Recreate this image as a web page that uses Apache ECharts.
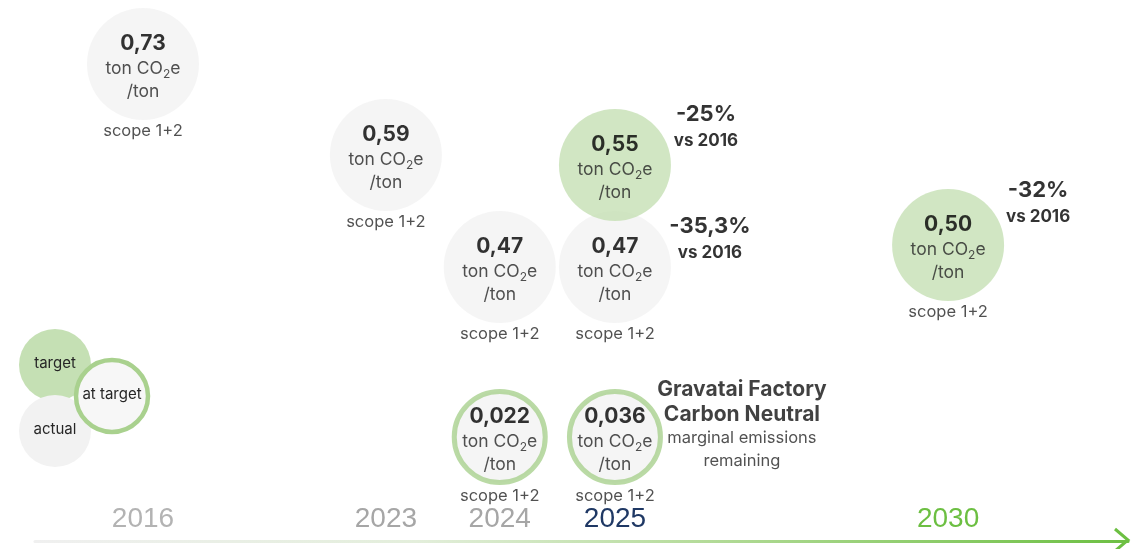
<!DOCTYPE html>
<html>
<head>
<meta charset="utf-8">
<script src="https://cdn.jsdelivr.net/npm/echarts@6/dist/echarts.min.js"></script>
<style>
  html, body { margin: 0; padding: 0; background: #ffffff; }
  #chart { width: 1136px; height: 549px; }
</style>
</head>
<body>
<div id="chart"></div>
<script>
// ---- Data: CO2e intensity, ton CO2e per ton produced ----
const timelineYears = [2016, 2023, 2024, 2025, 2030];
const baseYear = 2016;

const actualYears  = [2016, 2023, 2024, 2025];
const actualValues = [0.73, 0.59, 0.47, 0.47];
const actualChange = ['', '', '', '-35,3%'];
const actualScope  = ['scope 1+2', 'scope 1+2', 'scope 1+2', 'scope 1+2'];

const targetYears  = [2025, 2030];
const targetValues = [0.55, 0.50];
const targetChange = ['-25%', '-32%'];
const targetScope  = ['', 'scope 1+2'];

const neutralYears  = [2024, 2025];
const neutralValues = [0.022, 0.036];
const neutralScope  = ['scope 1+2', 'scope 1+2'];

const neutralTitle = ['Gravatai Factory', 'Carbon Neutral'];
const neutralNote  = ['marginal emissions', 'remaining'];
const legendText   = { target: 'target', actual: 'actual', neutral: 'at target' };

// ---- Layout: timeline slot per year, vertical row per bubble ----
const slotOf = { 2016: 0, 2023: 8.75, 2024: 12.85, 2025: 17, 2030: 29 };
const rowOf = {
  actual:  { 2016: 64, 2023: 155, 2024: 267, 2025: 267 },
  target:  { 2025: 165, 2030: 245 },
  neutral: { 2024: 437, 2025: 437 }
};
const changeOffset = {
  actual:  { 2025: [95, -28] },
  target:  { 2025: [91, -38], 2030: [90, -42] }
};

const GRAY = '#f2f2f2';
const GREEN_FILL = '#c5e0b4';
const GREEN_RING = '#a9d18e';
const TEXT = '#262626';
const FONT = 'Inter, "Noto Sans", sans-serif';
const SIZE = { actual: 112, target: 112, neutral: 91 };
const yearColor = { 2016: '#b3b3b3', 2023: '#a6a6a6', 2024: '#a6a6a6', 2025: '#1f3864', 2030: '#6cbf42' };

function fmt(v) {
  return (v < 0.1 ? v.toFixed(3) : v.toFixed(2)).replace('.', ',');
}

const bubbleRich = {
  v: { fontFamily: FONT, fontSize: 21, fontWeight: 'bold', color: '#000', lineHeight: 27 },
  u: { fontFamily: FONT, fontSize: 17.5, color: TEXT, lineHeight: 23 },
  s: { fontFamily: FONT, fontSize: 12, color: TEXT, lineHeight: 17, verticalAlign: 'bottom', padding: [2, 0, 0, 0] }
};
const bubbleLabel = {
  show: true,
  position: 'inside',
  offset: [0, 3],
  formatter: p => `{v|${fmt(p.value[2])}}\n{u|ton CO}{s|2}{u|e}\n{u|/ton}`,
  rich: bubbleRich
};

function points(kind, years, values) {
  return years.map((y, i) => [slotOf[y], rowOf[kind][y], values[i]]);
}

// labels hanging under each bubble
const scopeData = [];
[['actual', actualYears, actualScope], ['target', targetYears, targetScope], ['neutral', neutralYears, neutralScope]]
  .forEach(([kind, years, texts]) => years.forEach((y, i) => {
    if (texts[i]) scopeData.push({ value: [slotOf[y], rowOf[kind][y]], name: texts[i], symbolSize: SIZE[kind] + (kind === 'neutral' ? 5 : 0) });
  }));

// reduction vs base year, placed to the upper right of a bubble
const changeData = [];
[['actual', actualYears, actualChange], ['target', targetYears, targetChange]]
  .forEach(([kind, years, texts]) => years.forEach((y, i) => {
    if (texts[i]) changeData.push({
      value: [slotOf[y], rowOf[kind][y]],
      name: texts[i],
      label: { offset: changeOffset[kind][y] }
    });
  }));

const lastNeutral = neutralYears[neutralYears.length - 1];

const option = {
  animation: false,
  backgroundColor: '#ffffff',
  grid: { left: 35, right: 8, top: 0, bottom: 8 },
  xAxis: {
    type: 'value',
    position: 'bottom',
    min: -3.89,
    max: 35.48,
    splitLine: { show: false },
    axisTick: { show: false },
    axisLine: {
      show: true,
      onZero: false,
      lineStyle: {
        width: 3,
        color: new echarts.graphic.LinearGradient(0, 0, 1, 0, [
          { offset: 0, color: '#f0f0f0' },
          { offset: 0.35, color: '#e3eedb' },
          { offset: 0.6, color: '#b6dc9c' },
          { offset: 1, color: '#6cbf42' }
        ])
      }
    },
    axisLabel: {
      show: true,
      inside: true,
      margin: 8,
      customValues: timelineYears.map(y => slotOf[y]),
      formatter: v => {
        const y = timelineYears.find(t => Math.abs(slotOf[t] - v) < 1e-6);
        return y ? `{y${y}|${y}}` : '';
      },
      rich: Object.fromEntries(timelineYears.map(y => ['y' + y, {
        fontFamily: '"Liberation Sans Narrow", "Liberation Sans", sans-serif',
        fontSize: 28,
        color: yearColor[y]
      }]))
    }
  },
  yAxis: {
    type: 'value',
    inverse: true,
    min: 0,
    max: 541,
    show: false
  },
  graphic: [
    // timeline arrow head
    {
      type: 'polyline',
      shape: { points: [[1115, 529], [1128, 540], [1115, 551]] },
      style: { stroke: '#6cbf42', lineWidth: 3, fill: null, lineJoin: 'miter' },
      silent: true
    },
    // key
    { type: 'circle', shape: { cx: 55, cy: 365, r: 36 }, style: { fill: GREEN_FILL }, z: 10 },
    { type: 'circle', shape: { cx: 55, cy: 431, r: 36 }, style: { fill: GRAY }, z: 11 },
    { type: 'circle', shape: { cx: 112, cy: 396, r: 36 }, style: { fill: '#f7f7f7', stroke: GREEN_RING, lineWidth: 4.5 }, z: 12 },
    { type: 'text', x: 55, y: 363, style: { text: legendText.target, fontFamily: FONT, fontSize: 15, fill: TEXT, align: 'center', verticalAlign: 'middle' }, z: 13 },
    { type: 'text', x: 55, y: 429, style: { text: legendText.actual, fontFamily: FONT, fontSize: 15, fill: TEXT, align: 'center', verticalAlign: 'middle' }, z: 13 },
    { type: 'text', x: 112, y: 394, style: { text: legendText.neutral, fontFamily: FONT, fontSize: 15, fill: TEXT, align: 'center', verticalAlign: 'middle' }, z: 13 }
  ],
  series: [
    {
      name: 'actual',
      type: 'scatter',
      z: 2,
      symbolSize: SIZE.actual,
      itemStyle: { color: GRAY },
      label: bubbleLabel,
      data: points('actual', actualYears, actualValues)
    },
    {
      name: 'at target',
      type: 'scatter',
      z: 2,
      symbolSize: SIZE.neutral,
      itemStyle: { color: GRAY, borderColor: GREEN_RING, borderWidth: 5 },
      label: bubbleLabel,
      data: points('neutral', neutralYears, neutralValues)
    },
    {
      name: 'target',
      type: 'scatter',
      z: 3,
      symbolSize: SIZE.target,
      itemStyle: { color: GREEN_FILL },
      label: bubbleLabel,
      data: points('target', targetYears, targetValues)
    },
    {
      name: 'scope',
      type: 'scatter',
      z: 4,
      silent: true,
      itemStyle: { color: 'rgba(0,0,0,0)' },
      label: {
        show: true,
        position: 'bottom',
        distance: 3,
        formatter: p => p.name,
        fontFamily: FONT,
        fontSize: 16.5,
        color: TEXT
      },
      data: scopeData
    },
    {
      name: 'change',
      type: 'scatter',
      z: 4,
      silent: true,
      symbolSize: 1,
      itemStyle: { color: 'rgba(0,0,0,0)' },
      label: {
        show: true,
        position: 'inside',
        formatter: p => `{p|${p.name}}\n{b|vs ${baseYear}}`,
        rich: {
          p: { fontFamily: FONT, fontSize: 22, fontWeight: 'bold', color: '#000', lineHeight: 28, align: 'center' },
          b: { fontFamily: FONT, fontSize: 17, fontWeight: 'bold', color: '#000', lineHeight: 25, align: 'center' }
        }
      },
      data: changeData
    },
    {
      name: 'neutral note',
      type: 'scatter',
      z: 4,
      silent: true,
      symbolSize: 1,
      itemStyle: { color: 'rgba(0,0,0,0)' },
      label: {
        show: true,
        position: 'inside',
        offset: [127, -12],
        formatter: () => neutralTitle.map(t => `{t|${t}}`).join('\n') + '\n' + neutralNote.map(t => `{n|${t}}`).join('\n'),
        rich: {
          t: { fontFamily: FONT, fontSize: 21, fontWeight: 'bold', color: '#111', lineHeight: 25, align: 'center' },
          n: { fontFamily: FONT, fontSize: 16.5, color: TEXT, lineHeight: 23, align: 'center' }
        }
      },
      data: [[slotOf[lastNeutral], rowOf.neutral[lastNeutral]]]
    }
  ]
};

const chart = echarts.init(document.getElementById('chart'), null, { renderer: 'canvas' });
chart.setOption(option);
</script>
</body>
</html>
